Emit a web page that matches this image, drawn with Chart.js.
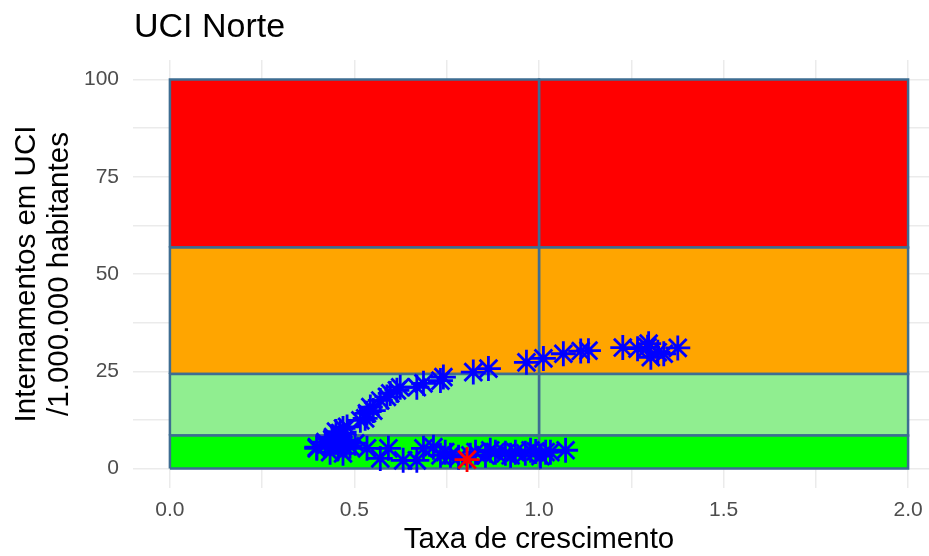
<!DOCTYPE html>
<html>
<head>
<meta charset="utf-8">
<script src="https://cdn.jsdelivr.net/npm/chart.js@4/dist/chart.umd.min.js"></script>
<style>
  html, body { margin: 0; padding: 0; background: #ffffff; overflow: hidden; }
  #wrap { width: 929px; height: 556px; position: relative; overflow: hidden; }
</style>
</head>
<body>
<div id="wrap"><canvas id="c" width="945" height="556"></canvas></div>
<script>
// ---- data ----
const chartTitle = "UCI Norte";
const xTitle = "Taxa de crescimento";
const yTitle = ["Internamentos em UCI", "/1.000.000 habitantes"];

const xTickValues = [0, 0.25, 0.5, 0.75, 1, 1.25, 1.5, 1.75, 2];
const xTickLabels = ["0.0", "", "0.5", "", "1.0", "", "1.5", "", "2.0"];
const yTickValues = [0, 12.5, 25, 37.5, 50, 62.5, 75, 87.5, 100];
const yTickLabels = ["0", "", "25", "", "50", "", "75", "", "100"];

// risk bands
const bandXEdges = [0, 1, 2];
const bandYEdges = [0, 8.5, 24.3, 56.8, 100];
const bandColors = ["#00FF00", "#90EE90", "#FFA500", "#FF0000"];

// observed points (growth rate, ICU per 1M)
const growthRate = [
  0.398, 0.421, 0.442, 0.461, 0.469, 0.480, 0.516, 0.529, 0.534, 0.543,
  0.551, 0.570, 0.588, 0.597, 0.615, 0.624, 0.669, 0.687, 0.733, 0.741,
  0.822, 0.863, 0.966, 1.012, 1.066, 1.113, 1.134, 1.227, 1.267, 1.294,
  1.297, 1.303, 1.322, 1.338, 1.376,
  0.398, 0.421, 0.434, 0.440, 0.450, 0.456, 0.460, 0.469, 0.470, 0.475,
  0.488, 0.502, 0.534, 0.570, 0.592, 0.632, 0.669, 0.687, 0.714, 0.733,
  0.746, 0.760, 0.782, 0.814, 0.828, 0.855, 0.868, 0.882, 0.909, 0.923,
  0.936, 0.963, 0.977, 0.991, 1.004, 1.018, 1.031, 1.072
];
const icuRate = [
  5.5, 6.8, 8.1, 9.1, 10.3, 10.7, 12.4, 12.9, 14.2, 15.8,
  14.9, 17.5, 18.4, 19.3, 20.1, 20.9, 20.9, 21.9, 22.6, 23.5,
  24.8, 25.7, 27.3, 28.3, 29.5, 30.2, 30.3, 31.1, 30.8, 31.2,
  32.1, 28.6, 29.9, 29.5, 31.0,
  5.2, 6.0, 4.2, 7.5, 9.5, 5.5, 7.0, 3.9, 6.0, 7.3,
  5.7, 6.5, 5.2, 2.6, 5.2, 2.1, 2.1, 5.2, 5.5, 3.4,
  4.2, 3.4, 2.9, 3.4, 4.2, 3.4, 4.7, 4.2, 3.9, 3.4,
  4.2, 3.9, 4.7, 4.4, 3.2, 4.2, 4.2, 4.7
];
const lastGrowth = [0.805];
const lastIcu = [2.3];

// ---- build datasets ----
const FONT = "'Liberation Sans', Arial, Helvetica, sans-serif";
const datasets = [];

datasets.push({
  label: "last",
  data: lastGrowth.map((x, i) => ({ x: x, y: lastIcu[i] })),
  showLine: false,
  pointStyle: "star",
  pointRadius: 12.5,
  pointBorderWidth: 2.8,
  borderColor: "#FF0000",
  backgroundColor: "#FF0000",
  order: 0
});
datasets.push({
  label: "obs",
  data: growthRate.map((x, i) => ({ x: x, y: icuRate[i] })),
  showLine: false,
  pointStyle: "star",
  pointRadius: 12.5,
  pointBorderWidth: 2.8,
  borderColor: "#0000FF",
  backgroundColor: "#0000FF",
  order: 1
});
for (let b = 0; b < bandColors.length; b++) {
  for (let k = 0; k < bandXEdges.length - 1; k++) {
    const x0 = bandXEdges[k], x1 = bandXEdges[k + 1];
    const y0 = bandYEdges[b], y1 = bandYEdges[b + 1];
    datasets.push({
      label: "band" + b + "_" + k,
      data: [{x: x0, y: y0}, {x: x1, y: y0}, {x: x1, y: y1}, {x: x0, y: y1}, {x: x0, y: y0}],
      showLine: true,
      fill: "shape",
      tension: 0,
      pointRadius: 0,
      borderWidth: 2.5,
      borderColor: "#3E6D92",
      backgroundColor: bandColors[b],
      order: 10 + b
    });
  }
}

const titlePlugin = {
  id: "titleText",
  afterDraw(chart) {
    const ctx = chart.ctx;
    ctx.save();
    ctx.fillStyle = "#000000";
    ctx.font = "34px " + FONT;
    ctx.textBaseline = "alphabetic";
    ctx.textAlign = "left";
    ctx.fillText(chartTitle, chart.chartArea.left + 1, 37);
    ctx.restore();
  }
};

new Chart(document.getElementById("c"), {
  type: "line",
  data: { datasets: datasets },
  plugins: [titlePlugin],
  options: {
    responsive: false,
    animation: false,
    layout: { autoPadding: false, padding: { top: 60, left: 0, right: 0, bottom: 0 } },
    plugins: { legend: { display: false }, tooltip: { enabled: false }, title: { display: false } },
    scales: {
      x: {
        type: "linear",
        min: -0.1,
        max: 2.1,
        afterBuildTicks(scale) { scale.ticks = xTickValues.map(v => ({ value: v })); },
        afterFit(scale) { scale.height = 68; scale.paddingLeft = 0; scale.paddingRight = 0; },
        ticks: {
          autoSkip: false,
          maxRotation: 0,
          padding: 10,
          color: "#4D4D4D",
          font: { family: FONT, size: 21 },
          callback(value) { const i = xTickValues.indexOf(value); return i >= 0 ? xTickLabels[i] : ""; }
        },
        grid: { color: "#EBEBEB", lineWidth: 1.5, drawTicks: false },
        border: { display: false },
        title: {
          display: true,
          text: xTitle,
          color: "#000000",
          font: { family: FONT, size: 29.5, lineHeight: 1 },
          padding: { top: 0, bottom: 1 }
        }
      },
      y: {
        type: "linear",
        min: -5,
        max: 105,
        afterBuildTicks(scale) { scale.ticks = yTickValues.map(v => ({ value: v })); },
        afterFit(scale) { scale.width = 133; scale.paddingTop = 0; scale.paddingBottom = 0; },
        ticks: {
          autoSkip: false,
          padding: 14,
          color: "#4D4D4D",
          font: { family: FONT, size: 21 },
          callback(value) { const i = yTickValues.indexOf(value); return i >= 0 ? yTickLabels[i] : ""; }
        },
        grid: { color: "#EBEBEB", lineWidth: 1.5, drawTicks: false },
        border: { display: false },
        title: {
          display: true,
          text: yTitle,
          color: "#000000",
          font: { family: FONT, size: 29.5, lineHeight: 1.12 },
          padding: { top: 10, bottom: 0 }
        }
      }
    }
  }
});
</script>
</body>
</html>
